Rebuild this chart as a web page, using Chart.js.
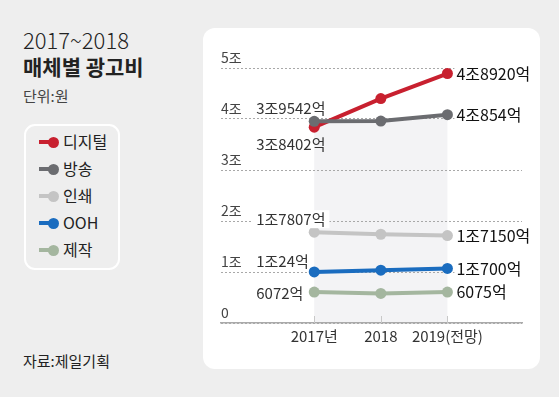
<!DOCTYPE html>
<html>
<head>
<meta charset="utf-8">
<script src="https://cdn.jsdelivr.net/npm/chart.js@4.4.1/dist/chart.umd.min.js"></script>
<style>
  body { margin: 0; background: #eeeeee; font-family: "Noto Sans CJK KR", "Noto Sans", sans-serif; }
  #wrap { position: relative; width: 559px; height: 397px; overflow: hidden; }
  #panel { position: absolute; left: 203px; top: 28px; width: 337px; height: 341px; background: #fff; border-radius: 12px; }
  #chart { position: absolute; left: 0; top: 0; }
  .t { position: absolute; left: 23px; color: #222; white-space: nowrap; }
  #legend { position: absolute; left: 24px; top: 124px; width: 92px; height: 142px; border: 2px solid #fff; border-radius: 11px; }
  .li { position: absolute; left: 11px; width: 80px; height: 20px; font-size: 16px; color: #222; line-height: 20px; white-space: nowrap; }
  .li i { position: absolute; left: 2px; top: 8px; width: 14px; height: 4px; }
  .li b { position: absolute; left: 11px; top: 5px; width: 11px; height: 11px; border-radius: 50%; }
  .li span { position: absolute; left: 26px; top: -1px; }
</style>
</head>
<body>
<div id="wrap">
  <div id="panel"></div>
  <div class="t" style="top:23px;font-size:22px;font-weight:300;">2017~2018</div>
  <div class="t" style="top:51px;font-size:21px;font-weight:700;">매체별 광고비</div>
  <div class="t" style="top:85px;font-size:15px;color:#444;">단위:원</div>
  <div id="legend"></div>
  <div class="t" style="top:350px;font-size:15px;">자료:제일기획</div>
  <canvas id="chart" width="559" height="397"></canvas>
</div>
<script>
const years = ["2017년", "2018", "2019(전망)"];
const seriesNames = ["디지털", "방송", "인쇄", "OOH", "제작"];
const seriesColors = ["#c8202f", "#6b6c70", "#c4c4c4", "#1a6cbf", "#a4b69f"];

// 단위: 조원
const digital = [3.8402, 4.40, 4.8920];
const broadcast = [3.9542, 3.96, 4.0854];
const print = [1.7807, 1.74, 1.7150];
const ooh = [1.0024, 1.035, 1.0700];
const production = [0.6072, 0.58, 0.6075];

const leftLabels = ["3조8402억", "3조9542억", "1조7807억", "1조24억", "6072억"];
const rightLabels = ["4조8920억", "4조854억", "1조7150억", "1조700억", "6075억"];
const yTickLabels = ["0", "1조", "2조", "3조", "4조", "5조"];

const allSeries = [digital, broadcast, print, ooh, production];

// legend
const legend = document.getElementById("legend");
seriesNames.forEach((name, i) => {
    const d = document.createElement("div");
    d.className = "li";
    d.style.top = (6 + i * 27) + "px";
    d.innerHTML = `<i style="background:${seriesColors[i]}"></i><b style="background:${seriesColors[i]}"></b><span>${name}</span>`;
    legend.appendChild(d);
});

// label offsets relative to the point (left labels: left-aligned start, dy)
const leftOffsets = [[-58, 17], [-58, -13], [-58, -13], [-58, -11], [-58, 1]];
const rightDx = 9;

const shadePlugin = {
    id: "shade",
    beforeDraw(chart) {
        const { ctx, scales: { x, y } } = chart;
        ctx.save();
        ctx.fillStyle = "#f3f3f5";
        ctx.fillRect(x.getPixelForValue(0), y.getPixelForValue(4), x.getPixelForValue(2) - x.getPixelForValue(0), y.getPixelForValue(0) - y.getPixelForValue(4));
        ctx.restore();
    },
    beforeDatasetsDraw(chart) {
        const { ctx, scales: { x, y } } = chart;
        ctx.save();
        ctx.strokeStyle = "#c8c8c8";
        ctx.lineWidth = 1;
        years.forEach((_, i) => {
            const px = Math.round(x.getPixelForValue(i)) + 0.5;
            ctx.beginPath();
            ctx.moveTo(px, y.getPixelForValue(0) - 7);
            ctx.lineTo(px, y.getPixelForValue(0));
            ctx.stroke();
        });
        ctx.restore();
    }
};

const labelPlugin = {
    id: "valueLabels",
    afterDatasetsDraw(chart) {
        const { ctx, scales: { x, y } } = chart;
        ctx.save();
        ctx.textBaseline = "middle";
        ctx.textAlign = "left";
        allSeries.forEach((vals, i) => {
            // left label
            const lx = x.getPixelForValue(0) + leftOffsets[i][0];
            const ly = y.getPixelForValue(vals[0]) + leftOffsets[i][1];
            ctx.font = "15px 'Noto Sans CJK KR'";
            if (i === 2) {
                const w = ctx.measureText(leftLabels[i]).width;
                ctx.fillStyle = "#fff";
                ctx.fillRect(lx - 4, ly - 9, w + 8, 18);
            }
            ctx.fillStyle = "#333";
            ctx.fillText(leftLabels[i], lx, ly);
            // right label
            const rx = x.getPixelForValue(2) + rightDx;
            const ry = y.getPixelForValue(vals[2]);
            ctx.font = "16px 'Noto Sans CJK KR'";
            const rw = ctx.measureText(rightLabels[i]).width;
            ctx.fillStyle = "#fff";
            ctx.fillRect(rx - 2, ry - 9, rw + 4, 18);
            ctx.fillStyle = "#111";
            ctx.fillText(rightLabels[i], rx, ry);
        });
        ctx.restore();
    }
};

new Chart(document.getElementById("chart"), {
    type: "line",
    data: {
        datasets: allSeries.map((vals, i) => ({
            label: seriesNames[i],
            data: vals.map((v, j) => ({ x: j, y: v })),
            borderColor: seriesColors[i],
            backgroundColor: seriesColors[i],
            pointBackgroundColor: seriesColors[i],
            borderWidth: 4,
            pointRadius: 5.5,
            pointBorderWidth: 0,
            tension: 0,
            clip: false,
            order: i === 1 ? 0 : i + 1
        }))
    },
    options: {
        responsive: false,
        animation: false,
        events: [],
        layout: { padding: { left: 221, right: 37, top: 68, bottom: 44 } },
        plugins: { legend: { display: false }, tooltip: { enabled: false } },
        scales: {
            x: {
                type: "linear",
                min: -1.40,
                max: 3.12,
                afterBuildTicks: s => { s.ticks = years.map((_, i) => ({ value: i })); },
                afterFit: s => { s.height = 30; },
                ticks: {
                    callback: v => years[v],
                    font: { size: 15, family: "Noto Sans CJK KR" },
                    color: "#333",
                    padding: 4,
                    maxRotation: 0,
                    autoSkip: false
                },
                grid: { display: false, drawTicks: false, tickLength: 0 },
                border: { display: true, color: "#aaaaaa", width: 1.5 }
            },
            y: {
                min: 0,
                max: 5,
                afterBuildTicks: s => { s.ticks = yTickLabels.map((_, i) => ({ value: i })); },
                afterFit: s => { s.width = 0; },
                ticks: {
                    mirror: true,
                    padding: 0,
                    labelOffset: -10,
                    callback: v => yTickLabels[v],
                    font: { size: 14, family: "Noto Sans CJK KR" },
                    color: "#444"
                },
                grid: { color: "#a8a8a8", lineWidth: 1, drawTicks: false },
                border: { display: false, dash: [2, 2] }
            }
        }
    },
    plugins: [shadePlugin, labelPlugin]
});
</script>
</body>
</html>
